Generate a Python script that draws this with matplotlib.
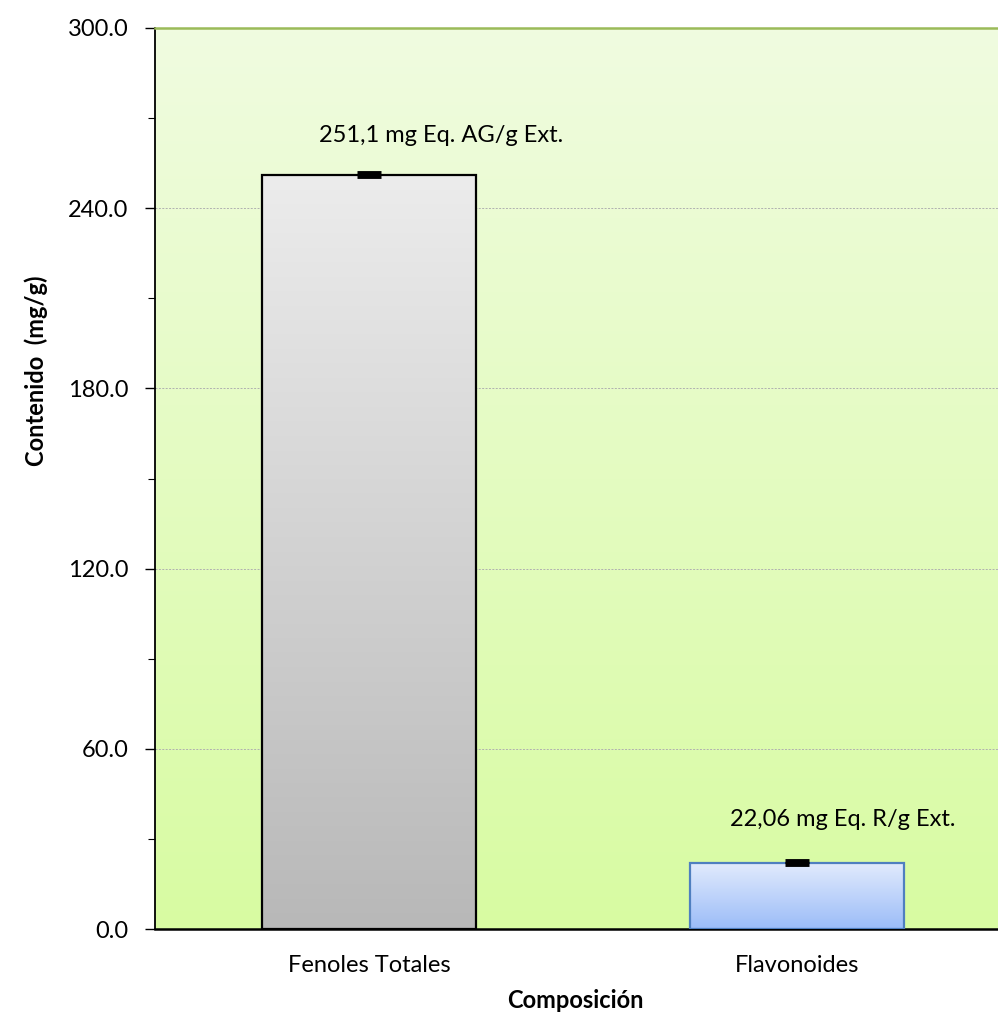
import numpy as np
import matplotlib
matplotlib.use("Agg")
import matplotlib.pyplot as plt
from matplotlib.colors import LinearSegmentedColormap
from matplotlib.ticker import MultipleLocator, FormatStrFormatter

plt.rcParams["font.family"] = ["Lato", "DejaVu Sans"]

categories = ["Fenoles Totales", "Flavonoides"]
values = [251.1, 22.06]
errors = [0.5, 0.5]
value_labels = ["251,1 mg Eq. AG/g Ext.", "22,06 mg Eq. R/g Ext."]

FS = 17

fig = plt.figure(figsize=(9.98, 10.26), dpi=100)
W, H = 998, 1026
# plot area runs past the right border of the figure
left, right, top, bottom = 155, 1011, 28, 929
ax = fig.add_axes([left / W, 1 - bottom / H, (right - left) / W, (bottom - top) / H])

ax.set_xlim(-0.5, 1.5)
ax.set_ylim(0, 300)

# pale green vertical gradient behind the bars
bg = LinearSegmentedColormap.from_list("bg", ["#d8fca2", "#f0fbe0"])
grad = np.linspace(0, 1, 256).reshape(-1, 1)
ax.imshow(grad, cmap=bg, aspect="auto", extent=[-0.5, 1.5, 0, 300],
          origin="lower", zorder=0)

ax.yaxis.set_major_locator(MultipleLocator(60))
ax.yaxis.set_minor_locator(MultipleLocator(30))
ax.yaxis.set_major_formatter(FormatStrFormatter("%.1f"))
ax.grid(axis="y", which="major", color="#b0b0b0", ls=(0, (2, 1.5)), lw=0.7, zorder=1)

x = np.arange(len(categories))
bars = ax.bar(x, values, width=0.5, zorder=3, facecolor="none")
edge_colors = ["#000000", "#4f7fc0"]
fills = [("#b8b8b8", "#ececec"), ("#9bbcf8", "#e2ebfd")]
for b, ec, (c0, c1) in zip(bars, edge_colors, fills):
    b.set_edgecolor(ec)
    b.set_linewidth(1.6)
    cm = LinearSegmentedColormap.from_list("f", [c0, c1])
    x0, w, h = b.get_x(), b.get_width(), b.get_height()
    im = ax.imshow(grad, cmap=cm, aspect="auto", extent=[x0, x0 + w, 0, h],
                   origin="lower", zorder=2)
    im.set_clip_path(b)

ax.errorbar(x, values, yerr=errors, fmt="none", ecolor="black", elinewidth=3,
            capsize=8.5, capthick=3.5, zorder=4)

label_offsets = [(52, 27), (33, 30)]
for xi, v, e, txt, off in zip(x, values, errors, value_labels, label_offsets):
    ax.annotate(txt, (xi, v + e), xytext=off, textcoords="offset points",
                ha="center", va="center", fontsize=FS, color="black", zorder=5)

ax.set_xticks(x)
ax.set_xticklabels(categories, fontsize=FS)
ax.tick_params(axis="x", length=0, pad=19)
ax.tick_params(axis="y", which="major", length=7, width=1, labelsize=FS, pad=12)
ax.tick_params(axis="y", which="minor", length=5, width=0.8)

ax.spines["left"].set_linewidth(1.3)
ax.spines["bottom"].set_linewidth(1.8)
ax.spines["top"].set_color("#9bbb59")
ax.spines["top"].set_linewidth(1.8)
ax.spines["right"].set_visible(False)

ax.set_ylabel("Contenido  (mg/g)", fontsize=FS, fontweight="bold")
ax.yaxis.set_label_coords(-0.125, 0.62)
fig.text(575 / W, 1 - 1000 / H, "Composición", ha="center", va="center",
         fontsize=FS, fontweight="bold")

fig.savefig("out.png", dpi=100)
